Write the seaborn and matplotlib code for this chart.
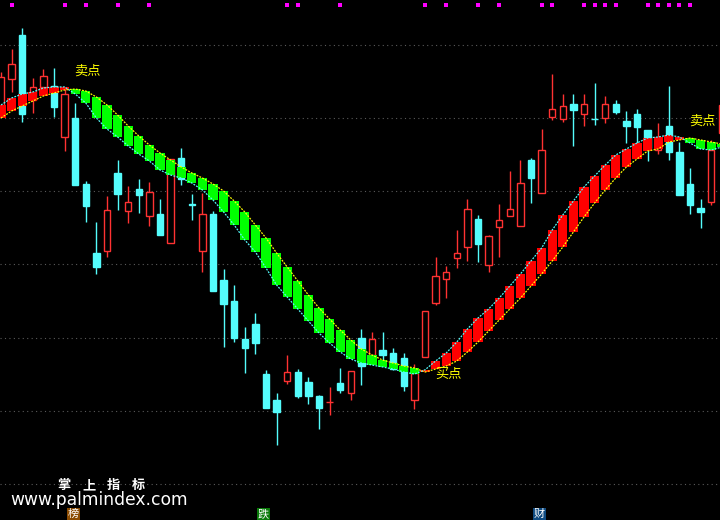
import numpy as np
import pandas as pd
import matplotlib
matplotlib.use('Agg')
import matplotlib.pyplot as plt
import seaborn as sns

# daily k-line bars
opens = [71.1, 75.3, 81.3, 72.5, 74.2, 74.4, 67.4, 70.0, 61.0, 51.6,
         51.8, 62.5, 57.3, 60.3, 56.6, 56.9, 52.9, 64.5, 58.2, 51.8,
         56.9, 47.9, 45.0, 39.8, 41.9, 35.0, 31.5, 34.1, 35.3, 33.9,
         32.0, 31.2, 33.8, 32.4, 40.0, 37.6, 38.3, 37.9, 37.2, 31.5,
         37.4, 44.7, 48.0, 50.9, 52.4, 56.2, 49.9, 55.1, 56.6, 55.3,
         64.3, 59.8, 70.1, 69.9, 71.9, 70.6, 69.9, 70.0, 71.9, 69.6,
         70.6, 68.4, 65.6, 68.9, 65.4, 61.0, 57.7, 58.5, 68.0]
highs = [76.3, 79.4, 82.3, 75.5, 76.7, 76.8, 74.2, 72.1, 61.4, 55.8,
         59.4, 64.3, 60.7, 61.7, 61.3, 58.9, 64.4, 65.9, 59.6, 59.8,
         57.3, 49.4, 47.2, 41.5, 43.4, 35.6, 32.4, 37.6, 35.7, 34.6,
         32.2, 33.3, 35.9, 35.4, 41.2, 40.8, 40.8, 38.6, 37.9, 36.4,
         43.6, 51.0, 49.8, 54.7, 58.9, 56.8, 54.0, 58.3, 62.8, 64.3,
         64.5, 68.5, 76.0, 73.3, 73.3, 73.3, 74.8, 73.0, 72.5, 71.0,
         71.2, 68.4, 69.3, 74.4, 66.7, 63.2, 58.9, 67.0, 72.5]
lows = [70.4, 73.6, 69.5, 70.7, 73.1, 70.1, 65.5, 60.9, 55.8, 48.7,
        51.0, 57.4, 55.7, 57.0, 55.3, 54.0, 52.9, 60.9, 56.1, 49.0,
        46.4, 38.7, 39.4, 35.2, 37.8, 30.4, 25.3, 33.7, 31.8, 30.9,
        27.5, 29.4, 32.4, 31.5, 33.5, 37.6, 36.9, 35.6, 32.7, 30.3,
        37.4, 44.5, 45.4, 49.5, 50.5, 50.3, 49.0, 51.0, 56.6, 55.3,
        58.4, 59.8, 69.7, 69.5, 66.2, 68.9, 69.0, 69.3, 70.5, 66.6,
        65.4, 64.1, 65.1, 64.3, 59.5, 56.9, 55.0, 58.1, 67.7]
closes = [75.6, 77.4, 70.6, 74.2, 75.7, 71.5, 73.3, 60.9, 58.0, 49.7,
          57.4, 59.6, 58.5, 59.5, 59.9, 54.0, 64.4, 61.7, 58.1, 56.9,
          46.4, 44.6, 40.0, 38.6, 39.3, 30.4, 29.8, 35.3, 32.0, 32.0,
          30.4, 31.2, 32.9, 35.4, 36.1, 39.8, 37.6, 35.7, 33.4, 35.2,
          43.6, 48.4, 49.0, 51.6, 57.6, 52.8, 53.9, 56.1, 57.6, 61.1,
          61.8, 65.6, 71.2, 71.6, 71.1, 71.9, 69.8, 71.9, 70.8, 68.9,
          68.8, 65.9, 67.0, 65.4, 59.5, 58.1, 57.2, 65.6, 71.8]

# indicator band: fast line (cyan) and slow line (yellow)
fast = [71.78, 72.73, 73.28, 73.55, 74.10, 74.24, 74.24, 73.28, 72.05, 70.00,
        68.50, 67.41, 66.18, 65.08, 64.13, 62.90, 62.21, 61.81, 61.12, 60.17,
        58.80, 57.16, 55.38, 53.34, 51.70, 49.51, 47.19, 45.55, 43.91, 42.27,
        40.63, 39.27, 38.04, 37.08, 36.53, 36.26, 35.99, 35.71, 35.30, 35.03,
        35.60, 36.81, 37.90, 39.40, 41.18, 42.68, 43.91, 45.41, 47.05, 48.69,
        50.47, 52.24, 54.70, 56.75, 58.66, 60.58, 62.08, 63.58, 64.95, 65.77,
        66.59, 67.27, 67.41, 67.68, 67.41, 66.59, 65.77, 65.63, 66.04]
slow = [70.00, 70.96, 71.64, 72.32, 73.01, 73.42, 73.83, 73.96, 73.69, 72.87,
        71.78, 70.41, 68.91, 67.54, 66.31, 65.22, 64.26, 63.31, 62.49, 61.81,
        60.99, 60.03, 58.66, 57.16, 55.38, 53.61, 51.56, 49.65, 47.74, 45.82,
        44.05, 42.54, 41.04, 39.68, 38.45, 37.63, 36.94, 36.53, 36.12, 35.85,
        35.30, 35.71, 36.12, 36.81, 38.04, 39.40, 40.91, 42.41, 43.91, 45.41,
        47.05, 48.69, 50.47, 52.38, 54.43, 56.48, 58.39, 60.17, 61.81, 63.31,
        64.40, 65.49, 65.77, 66.72, 67.00, 67.27, 67.00, 66.72, 66.45]

# bars flagged with a magenta dot on the top row
flag_bars = [1, 6, 8, 11, 14, 27, 28, 32, 40, 42, 45, 47, 51, 52, 55, 56,
             57, 58, 61, 62, 63, 64, 65]
flag_level = 85.4

# signal labels (bar position, price, text)
signal_x = [6.9, 64.9, 40.95]
signal_y = [76.4, 69.6, 35.0]
signal_txt = ['卖点', '卖点', '买点']

grid_levels = [20, 30, 40, 50, 60, 70, 80]

RED = '#FF3232'
CYAN = '#54FCFC'

df = pd.DataFrame({'open': opens, 'high': highs, 'low': lows, 'close': closes,
                   'fast': fast, 'slow': slow})
df['bar'] = np.arange(len(df))
df['up'] = df['close'] >= df['open']
df.loc[[18, 56], 'up'] = False

sns.set_theme(style='dark', rc={'axes.facecolor': 'black',
                                'figure.facecolor': 'black'})
plt.rcParams['font.family'] = ['Noto Sans CJK SC', 'DejaVu Sans']

fig = plt.figure(figsize=(7.2, 5.2), dpi=100)
ax = fig.add_axes([0, 0, 1, 1])
ax.set_facecolor('black')

# grid
for g in grid_levels:
    ax.axhline(g, color='#5a5a5a', lw=0.8, ls=(0, (1, 3)), zorder=0)

# candles
col = np.where(df['up'], RED, CYAN)
ax.vlines(df['bar'], df['low'], df['high'], colors=col, lw=1, zorder=1)
body_lo = df[['open', 'close']].min(axis=1)
body_h = (df['close'] - df['open']).abs()
face = np.where(df['up'], 'black', CYAN)
ax.bar(df['bar'], body_h, bottom=body_lo, width=0.6, color=face,
       edgecolor=col, linewidth=1, zorder=2)

# band between the two lines
band_lo = df[['fast', 'slow']].min(axis=1)
band_h = (df['fast'] - df['slow']).abs()
band_col = np.where(df['fast'] >= df['slow'], '#FF0000', '#00FF00')
ax.bar(df['bar'], band_h, bottom=band_lo, width=0.85, color=band_col,
       linewidth=0, zorder=3)
sns.lineplot(data=df, x='bar', y='slow', color='#FFFF00', lw=0.9,
             ls=(0, (1.5, 1)), ax=ax, zorder=4, legend=False)
sns.lineplot(data=df, x='bar', y='fast', color=CYAN, lw=0.9,
             ls=(0, (1.5, 1)), ax=ax, zorder=4, legend=False)

# flags on top row
flags = pd.DataFrame({'bar': flag_bars, 'y': flag_level})
sns.scatterplot(data=flags, x='bar', y='y', marker='s', s=5,
                color='#FF00FF', linewidth=0, ax=ax, zorder=5)

for x, y, t in zip(signal_x, signal_y, signal_txt):
    ax.text(x, y, t, color='#FFFF00', fontsize=9.5, ha='left', va='center',
            zorder=6)

ax.set_xlim(-0.094, 67.83)
ax.set_ylim(15.09, 86.12)
ax.set_xticks([])
ax.set_yticks([])
ax.set_xlabel('')
ax.set_ylabel('')
for s in ax.spines.values():
    s.set_visible(False)

# watermark
for k, ch in enumerate('掌上指标'):
    fig.text((57 + 25 * k) / 720, 1 - 485 / 520, ch, color='white',
             fontsize=9.5, fontweight='bold', ha='left', va='center')
fig.text(10 / 720, 15 / 520, 'www.palmindex.com', color='white',
         fontsize=12.3, family='DejaVu Sans', ha='left', va='baseline')

tabs = [('榜', 68, '#8a4a00'), ('跌', 258, '#0a7a0a'), ('财', 534, '#0f4a80')]
for t, px, bg in tabs:
    fig.text(px / 720, 1 / 520, t, color='white', fontsize=8,
             ha='left', va='bottom',
             bbox=dict(facecolor=bg, edgecolor='none', pad=0.5))

fig.savefig('out.png', dpi=100, facecolor='black')
